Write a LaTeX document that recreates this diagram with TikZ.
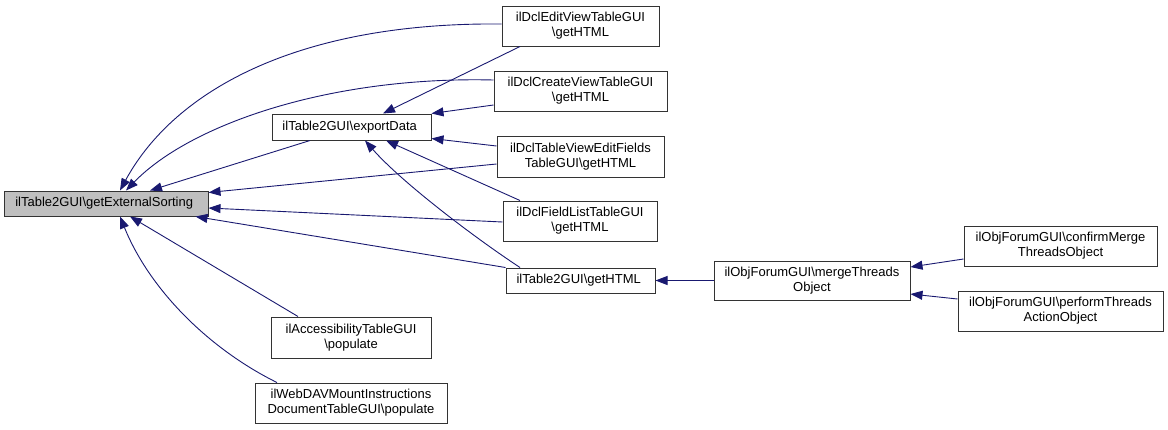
\documentclass[tikz,border=0pt]{standalone}
\usepackage{fontspec}
\setmainfont{Liberation Sans}
\usepackage{tikz}
\usetikzlibrary{arrows.meta,positioning,calc}
\definecolor{navy}{RGB}{25,25,112}
\definecolor{rootgray}{RGB}{191,191,191}
\tikzset{
  box/.style={draw=black!80, line width=1pt, fill=white, inner sep=2pt, align=center,
    font=\fontsize{13}{15}\selectfont},
  call/.style={draw=navy, line width=0.9pt, -{Triangle[length=12pt,width=9pt]}}
}

\begin{document}
\begin{tikzpicture}[x=1pt,y=-1pt]
    \useasboundingbox (0,0) rectangle (1168,429);
    \node [box, fill=rootgray, minimum width=204, minimum height=25] (0) at (106,203.5) { ilTable2GUI\textbackslash getExternalSorting };
    \node [box, minimum width=159, minimum height=26] (1) at (351.5,127) { ilTable2GUI\textbackslash exportData };
    \node [box, minimum width=157, minimum height=40] (2) at (580.5,26) { ilDclEditViewTableGUI\\\textbackslash getHTML };
    \node [box, minimum width=173, minimum height=40] (3) at (580.5,91) { ilDclCreateViewTableGUI\\\textbackslash getHTML };
    \node [box, minimum width=167, minimum height=41] (4) at (580.5,156.5) { ilDclTableViewEditFields\\TableGUI\textbackslash getHTML };
    \node [box, minimum width=154, minimum height=40] (5) at (580,221) { ilDclFieldListTableGUI\\\textbackslash getHTML };
    \node [box, minimum width=149, minimum height=25] (6) at (580.5,280.5) { ilTable2GUI\textbackslash getHTML };
    \node [box, minimum width=196, minimum height=39] (7) at (812,280.5) { ilObjForumGUI\textbackslash mergeThreads\\Object };
    \node [box, minimum width=193, minimum height=40] (8) at (1060.5,246) { ilObjForumGUI\textbackslash confirmMerge\\ThreadsObject };
    \node [box, minimum width=205, minimum height=40] (9) at (1060.5,311) { ilObjForumGUI\textbackslash performThreads\\ActionObject };
    \node [box, minimum width=160, minimum height=41] (10) at (351,337.5) { ilAccessibilityTableGUI\\\textbackslash populate };
    \node [box, minimum width=192, minimum height=40] (11) at (351,403) { ilWebDAVMountInstructions\\DocumentTableGUI\textbackslash populate };

    % callers of getExternalSorting
    \draw [call] ([yshift=2]2.west) .. controls +(-202,-2) and +(55,-101) .. ([xshift=14]0.north);
    \draw [call] ([yshift=11]3.west) .. controls +(-164,-4) and +(64,-66) .. ([xshift=20]0.north);
    \draw [call] ([xshift=-41.5]1.south) -- ([xshift=44]0.north);
    \draw [call] ([yshift=-7.5]4.west) -- ([yshift=-2]0.north east);
    \draw [call] ([yshift=-1]5.west) -- ([yshift=-4.5]0.east);
    \draw [call] (6.north west) -- ([xshift=-13]0.south east);
    \draw [call] ([xshift=-53]10.north) -- ([xshift=24]0.south);
    \draw [call] ([xshift=-74]11.north) .. controls +(-67,-33) and +(30,74) .. ([xshift=14]0.south);

    % callers of exportData
    \draw [call] ([xshift=-60.5]2.south) -- ([xshift=31.5]1.north);
    \draw [call] ([yshift=-14]3.west) -- (1.north east);
    \draw [call] ([yshift=10.5]4.west) -- ([yshift=2]1.south east);
    \draw [call] ([xshift=-60]5.north) -- ([xshift=34.5]1.south);
    \draw [call] ([xshift=-60.5]6.north) .. controls +(-50,-33) and +(35,40) .. ([xshift=13.5]1.south);

    \draw [call] (7.west) -- (6.east);
    \draw [call] ([yshift=-13]8.west) -- ([yshift=13.5]7.east);
    \draw [call] ([yshift=12]9.west) -- ([yshift=-13.5]7.east);
\end{tikzpicture}
\end{document}
